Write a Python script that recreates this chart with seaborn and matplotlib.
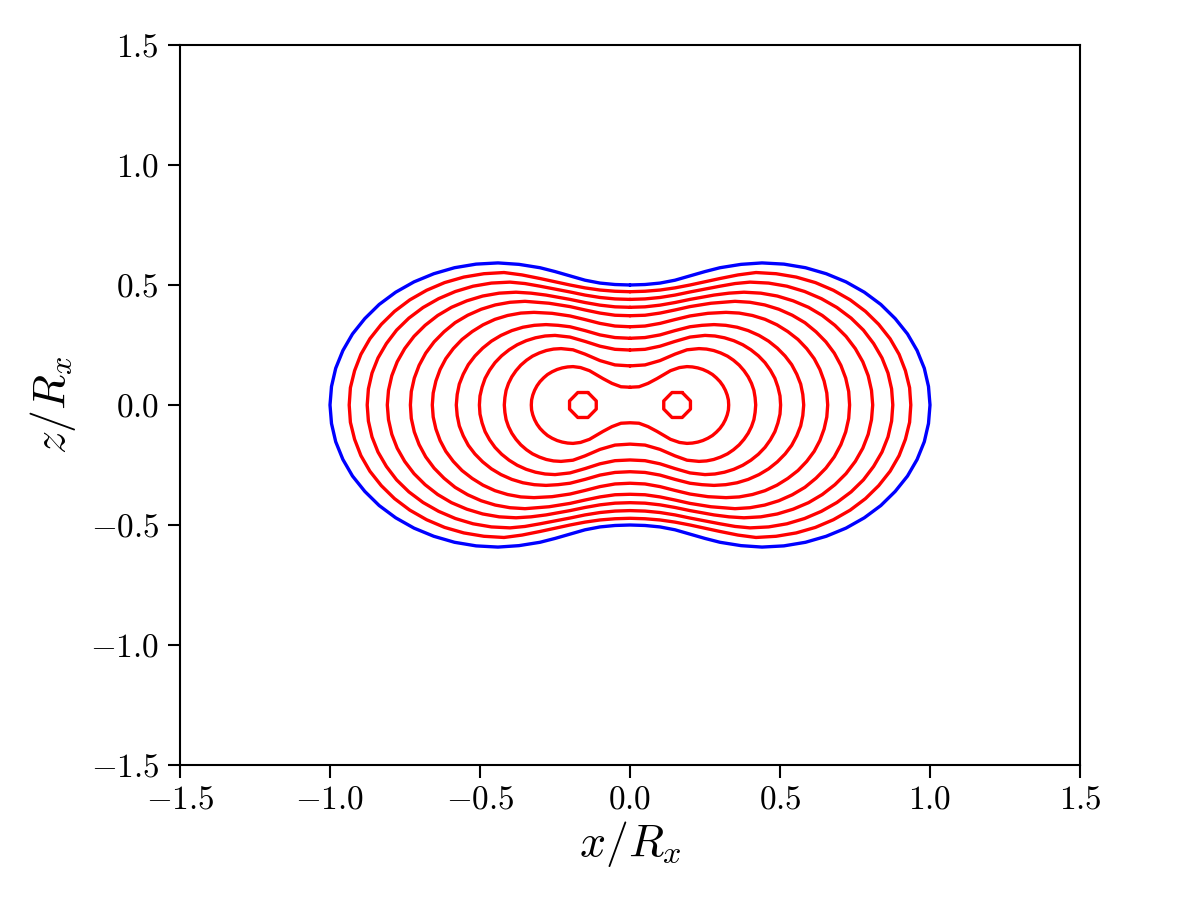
import numpy as np
import pandas as pd
import seaborn as sns
from matplotlib import pyplot as plt

# quarter of each contour (x >= 0, z >= 0), from the neck on the z axis out to the x axis
outer = [(0.0, 0.50), (0.05, 0.502), (0.1, 0.508), (0.15, 0.52), (0.2, 0.538), (0.25, 0.556),
         (0.3, 0.572), (0.37, 0.586), (0.44, 0.592), (0.513, 0.587), (0.585, 0.572),
         (0.654, 0.547), (0.72, 0.513), (0.781, 0.47), (0.836, 0.419), (0.884, 0.36),
         (0.925, 0.296), (0.957, 0.227), (0.981, 0.153), (0.995, 0.077), (1.0, 0.0)]
ring1 = [(0.0, 0.472), (0.05, 0.474), (0.1, 0.479), (0.15, 0.488), (0.2, 0.50), (0.3, 0.527),
         (0.36, 0.542), (0.42, 0.552), (0.487, 0.547), (0.554, 0.533), (0.618, 0.51),
         (0.678, 0.478), (0.734, 0.438), (0.785, 0.39), (0.829, 0.336), (0.867, 0.276),
         (0.897, 0.211), (0.918, 0.143), (0.932, 0.072), (0.936, 0.0)]
ring2 = [(0.0, 0.44), (0.05, 0.442), (0.1, 0.448), (0.15, 0.458), (0.2, 0.471), (0.3, 0.495),
         (0.35, 0.506), (0.4, 0.512), (0.462, 0.508), (0.523, 0.495), (0.582, 0.473),
         (0.638, 0.443), (0.69, 0.406), (0.737, 0.362), (0.778, 0.312), (0.812, 0.256),
         (0.84, 0.196), (0.86, 0.133), (0.872, 0.067), (0.876, 0.0)]
ring3 = [(0.0, 0.407), (0.05, 0.409), (0.1, 0.416), (0.15, 0.427), (0.2, 0.44), (0.28, 0.458),
         (0.33, 0.466), (0.38, 0.47), (0.436, 0.466), (0.491, 0.454), (0.544, 0.434),
         (0.595, 0.407), (0.641, 0.373), (0.683, 0.332), (0.72, 0.286), (0.751, 0.235),
         (0.776, 0.18), (0.794, 0.122), (0.805, 0.061), (0.809, 0.0)]
ring4 = [(0.0, 0.372), (0.05, 0.374), (0.1, 0.383), (0.15, 0.396), (0.2, 0.41), (0.27, 0.424),
         (0.35, 0.432), (0.4, 0.428), (0.449, 0.417), (0.496, 0.399), (0.541, 0.374),
         (0.583, 0.343), (0.62, 0.305), (0.653, 0.263), (0.681, 0.216), (0.703, 0.165),
         (0.719, 0.112), (0.729, 0.056), (0.732, 0.0)]
ring5 = [(0.0, 0.326), (0.05, 0.329), (0.1, 0.34), (0.15, 0.356), (0.2, 0.371), (0.26, 0.382),
         (0.32, 0.386), (0.364, 0.383), (0.408, 0.373), (0.45, 0.357), (0.49, 0.334),
         (0.526, 0.306), (0.56, 0.273), (0.589, 0.235), (0.614, 0.193), (0.633, 0.148),
         (0.647, 0.1), (0.656, 0.05), (0.659, 0.0)]
ring6 = [(0.0, 0.278), (0.05, 0.281), (0.1, 0.292), (0.15, 0.31), (0.2, 0.326), (0.24, 0.332),
         (0.28, 0.335), (0.319, 0.332), (0.357, 0.324), (0.394, 0.31), (0.43, 0.29),
         (0.462, 0.266), (0.491, 0.237), (0.517, 0.204), (0.539, 0.168), (0.556, 0.128),
         (0.569, 0.087), (0.576, 0.044), (0.579, 0.0)]
ring7 = [(0.0, 0.229), (0.05, 0.232), (0.1, 0.245), (0.15, 0.265), (0.2, 0.283), (0.25, 0.29),
         (0.283, 0.2875), (0.315, 0.28), (0.346, 0.268), (0.376, 0.251), (0.403, 0.23),
         (0.428, 0.205), (0.45, 0.1765), (0.468, 0.145), (0.483, 0.111), (0.493, 0.075),
         (0.5, 0.038), (0.502, 0.0)]
ring8 = [(0.0, 0.163), (0.05, 0.167), (0.1, 0.185), (0.15, 0.212), (0.19, 0.23), (0.23, 0.235),
         (0.255, 0.233), (0.279, 0.227), (0.302, 0.217), (0.325, 0.2035), (0.345, 0.1865),
         (0.364, 0.166), (0.38, 0.143), (0.394, 0.1175), (0.405, 0.09), (0.413, 0.061),
         (0.417, 0.031), (0.419, 0.0)]
peanut = [(0.0, 0.074), (0.03, 0.076), (0.06, 0.09), (0.09, 0.11), (0.135, 0.143), (0.165, 0.156),
          (0.19, 0.16), (0.208, 0.1586), (0.226, 0.1545), (0.243, 0.148), (0.2595, 0.1386),
          (0.275, 0.127), (0.288, 0.113), (0.3, 0.0974), (0.31, 0.08), (0.318, 0.0612),
          (0.324, 0.0414), (0.328, 0.0209), (0.329, 0.0)]

# the two small loops round the maxima
knot_centres = [-0.157, 0.157]
knot_dx = [0.017, 0.0445, 0.0445, 0.017, -0.017, -0.0445, -0.0445, -0.017, 0.017]
knot_dz = [0.052, 0.017, -0.017, -0.052, -0.052, -0.017, 0.017, 0.052, 0.052]


def closed_curve(quarter):
    q = np.array(quarter)
    x, z = q[:, 0], q[:, 1]
    xs = np.concatenate([x, x[::-1][1:], -x[1:], -x[::-1][1:]])
    zs = np.concatenate([z, -z[::-1][1:], -z[1:], z[::-1][1:]])
    return pd.DataFrame({'x': xs, 'z': zs})


sns.set_style('white')
plt.rcParams['font.family'] = ['serif']
plt.rcParams['font.serif'] = ['cmr10']
plt.rcParams['mathtext.fontset'] = 'cm'
plt.rcParams['axes.formatter.use_mathtext'] = True
plt.rcParams['axes.unicode_minus'] = True
for key in ['text.color', 'axes.labelcolor', 'xtick.color', 'ytick.color', 'axes.edgecolor']:
    plt.rcParams[key] = 'black'

fig = plt.figure(figsize=(8, 6), dpi=150)
ax = fig.add_axes([0.15, 0.15, 0.75, 0.8])

for quarter in [ring1, ring2, ring3, ring4, ring5, ring6, ring7, ring8, peanut]:
    sns.lineplot(data=closed_curve(quarter), x='x', y='z', sort=False, estimator=None,
                 color='red', linewidth=1.6, ax=ax)

for c in knot_centres:
    knot = pd.DataFrame({'x': [c + d for d in knot_dx], 'z': knot_dz})
    sns.lineplot(data=knot, x='x', y='z', sort=False, estimator=None, color='red',
                 linewidth=1.6, ax=ax)

sns.lineplot(data=closed_curve(outer), x='x', y='z', sort=False, estimator=None,
             color='blue', linewidth=1.6, ax=ax)

ax.set_xlim(-1.5, 1.5)
ax.set_ylim(-1.5, 1.5)
ax.set_xticks([-1.5, -1.0, -0.5, 0.0, 0.5, 1.0, 1.5])
ax.set_yticks([-1.5, -1.0, -0.5, 0.0, 0.5, 1.0, 1.5])
ax.tick_params(direction='out', length=6, width=1, labelsize=16, pad=4,
               top=False, right=False, bottom=True, left=True)
for s in ax.spines.values():
    s.set_linewidth(1)
    s.set_color('black')

ax.set_xlabel(r'$x/R_x$', fontsize=22, labelpad=2)
ax.set_ylabel(r'$z/R_x$', fontsize=22, labelpad=6)

fig.savefig('out.png', dpi=150)
